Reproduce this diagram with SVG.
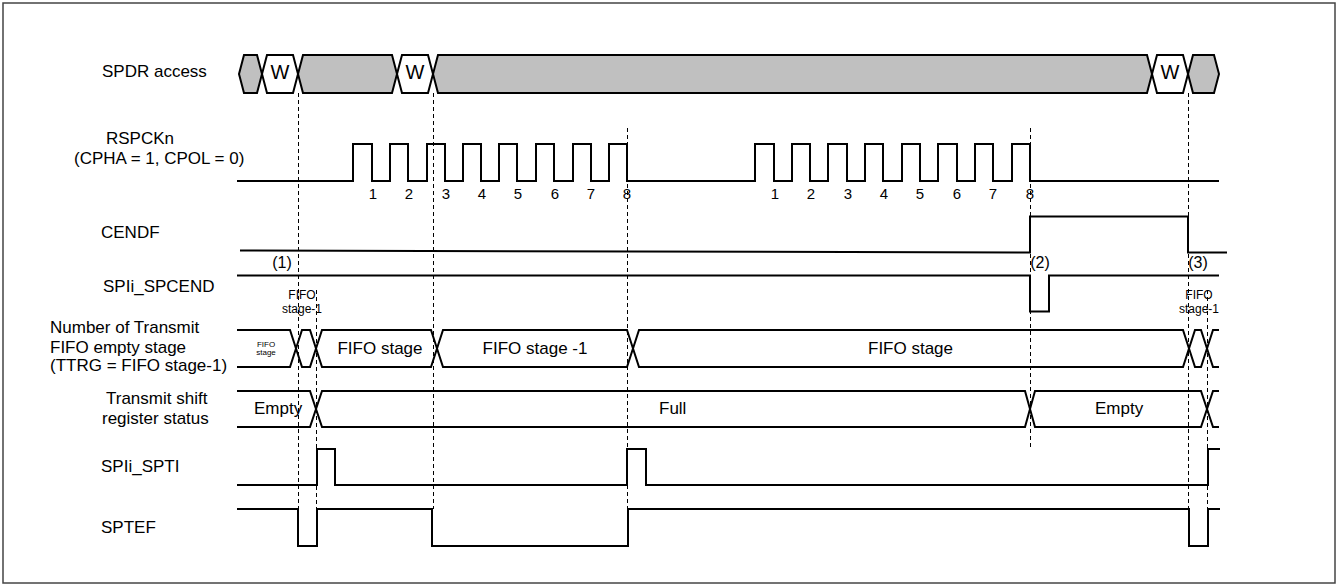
<svg xmlns="http://www.w3.org/2000/svg" width="1339" height="586" viewBox="0 0 1339 586">
<style>
text{font-family:"Liberation Sans",Arial,sans-serif;fill:#000}
.lbl{font-size:17px}
.num{font-size:15px;text-anchor:middle}
.sm{font-size:12px;text-anchor:middle}
.tiny{font-size:8px;text-anchor:middle}
.w{fill:none;stroke:#000;stroke-width:2;stroke-linejoin:miter}
.g{fill:#c0c0c0;stroke:#000;stroke-width:2}
.wh{fill:#fff;stroke:#000;stroke-width:2}
.d{stroke:#000;stroke-width:1;stroke-dasharray:4 3;fill:none}
</style>
<rect x="3" y="3" width="1332" height="580" fill="#fff" stroke="#444" stroke-width="1.5"/>

<g id="labels">
<text class="lbl" x="102" y="77">SPDR access</text>
<text class="lbl" x="106" y="144">RSPCKn</text>
<text class="lbl" x="74" y="164">(CPHA = 1, CPOL = 0)</text>
<text class="lbl" x="101" y="238">CENDF</text>
<text class="lbl" x="103" y="292">SPIi_SPCEND</text>
<text class="lbl" x="50" y="333">Number of Transmit</text>
<text class="lbl" x="50" y="353">FIFO empty stage</text>
<text class="lbl" x="50" y="371">(TTRG = FIFO stage-1)</text>
<text class="lbl" x="106" y="404">Transmit shift</text>
<text class="lbl" x="102" y="424">register status</text>
<text class="lbl" x="101" y="472">SPIi_SPTI</text>
<text class="lbl" x="101" y="533">SPTEF</text>
</g>

<g id="connectors">
<line class="d" x1="298.5" y1="93" x2="298.5" y2="509"/>
<line class="d" x1="316.5" y1="290" x2="316.5" y2="509"/>
<line class="d" x1="433.5" y1="93" x2="433.5" y2="509"/>
<line class="d" x1="627.5" y1="128" x2="627.5" y2="509"/>
<line class="d" x1="1030.5" y1="128" x2="1030.5" y2="448"/>
<line class="d" x1="1188.5" y1="93" x2="1188.5" y2="509"/>
<line class="d" x1="1207.5" y1="290" x2="1207.5" y2="509"/>
</g>

<g id="spdr">
<path class="g" d="M239,74 L244,55 H257 L262,74 L257,93 H244 Z"/>
<path class="wh" d="M262,74 L267,55 H293 L298,74 L293,93 H267 Z"/>
<path class="g" d="M298,74 L303,55 H392 L397,74 L392,93 H303 Z"/>
<path class="wh" d="M397,74 L402,55 H428 L433,74 L428,93 H402 Z"/>
<path class="g" d="M433,74 L438,55 H1147 L1152,74 L1147,93 H438 Z"/>
<path class="wh" d="M1152,74 L1157,55 H1183 L1188,74 L1183,93 H1157 Z"/>
<path class="g" d="M1188,74 L1193,55 H1214 L1219,74 L1214,93 H1193 Z"/>
<text x="280" y="79" font-size="20" text-anchor="middle">W</text>
<text x="415" y="79" font-size="20" text-anchor="middle">W</text>
<text x="1170" y="79" font-size="20" text-anchor="middle">W</text>
</g>

<g id="rspck">
<path class="w" d="M237,181 H353 V144 H372 V181 H390 V144 H408 V181 H427 V144 H445 V181 H463 V144 H481 V181 H499 V144 H517 V181 H536 V144 H554 V181 H573 V144 H591 V181 H609 V144 H627 V181 H755 V144 H774 V181 H792 V144 H810 V181 H828 V144 H847 V181 H865 V144 H883 V181 H902 V144 H920 V181 H938 V144 H957 V181 H975 V144 H993 V181 H1012 V144 H1030 V181 H1219"/>
<text class="num" x="373" y="199">1</text>
<text class="num" x="409" y="199">2</text>
<text class="num" x="446" y="199">3</text>
<text class="num" x="482" y="199">4</text>
<text class="num" x="518" y="199">5</text>
<text class="num" x="555" y="199">6</text>
<text class="num" x="591" y="199">7</text>
<text class="num" x="627" y="199">8</text>
<text class="num" x="775" y="199">1</text>
<text class="num" x="811" y="199">2</text>
<text class="num" x="848" y="199">3</text>
<text class="num" x="884" y="199">4</text>
<text class="num" x="920" y="199">5</text>
<text class="num" x="957" y="199">6</text>
<text class="num" x="993" y="199">7</text>
<text class="num" x="1030" y="199">8</text>
</g>

<g id="cendf">
<path class="w" d="M240,250.5 L1030,252.5 V216.5 H1188 V252.5 H1227"/>
<text x="282" y="268" font-size="16" text-anchor="middle">(1)</text>
<text x="1040" y="268" font-size="16" text-anchor="middle">(2)</text>
<text x="1198" y="268" font-size="16" text-anchor="middle">(3)</text>
</g>

<g id="spcend">
<path class="w" d="M237,275.5 H1030 V311.5 H1049 V275.5 H1219"/>
<text class="sm" x="302" y="299">FIFO</text>
<text class="sm" x="302" y="313">stage-1</text>
<text class="sm" x="1199" y="299">FIFO</text>
<text class="sm" x="1199" y="313">stage-1</text>
</g>

<g id="fifo-empty-stage">
<path class="w" d="M237,330 H290 L296,348.5 L290,367 H237"/>
<path class="w" d="M296,348.5 L302,330 H310 L316,348.5 L310,367 H302 Z"/>
<path class="w" d="M316,348.5 L322,330 H431 L437,348.5 L431,367 H322 Z"/>
<path class="w" d="M437,348.5 L443,330 H627 L633,348.5 L627,367 H443 Z"/>
<path class="w" d="M633,348.5 L639,330 H1183 L1189,348.5 L1183,367 H639 Z"/>
<path class="w" d="M1189,348.5 L1195,330 H1201 L1207,348.5 L1201,367 H1195 Z"/>
<path class="w" d="M1207,348.5 L1213,330 H1219 M1207,348.5 L1213,367 H1219"/>
<text class="tiny" x="266" y="347">FIFO</text>
<text class="tiny" x="266" y="355">stage</text>
<text class="lbl" x="380" y="354" text-anchor="middle">FIFO stage</text>
<text class="lbl" x="535" y="354" text-anchor="middle">FIFO stage -1</text>
<text class="lbl" x="868" y="354">FIFO stage</text>
</g>

<g id="shift-register">
<path class="w" d="M237,391 H310 L316,409 L310,427 H237"/>
<path class="w" d="M316,409 L322,391 H1025 L1030,409 L1025,427 H322 Z"/>
<path class="w" d="M1030,409 L1035,391 H1201 L1207,409 L1201,427 H1035 Z"/>
<path class="w" d="M1207,409 L1213,391 H1219 M1207,409 L1213,427 H1219"/>
<text class="lbl" x="254" y="414">Empty</text>
<text class="lbl" x="659" y="414">Full</text>
<text class="lbl" x="1095" y="414">Empty</text>
</g>

<g id="spti">
<path class="w" d="M237,485 H317 V449 H335 V485 H627 V449 H646 V485 H1208 V449 H1220"/>
</g>

<g id="sptef">
<path class="w" d="M237,509 H298 V546 H317 V509 H432 V546 H628 V509 H1189 V546 H1208 V509 H1220"/>
</g>
</svg>
